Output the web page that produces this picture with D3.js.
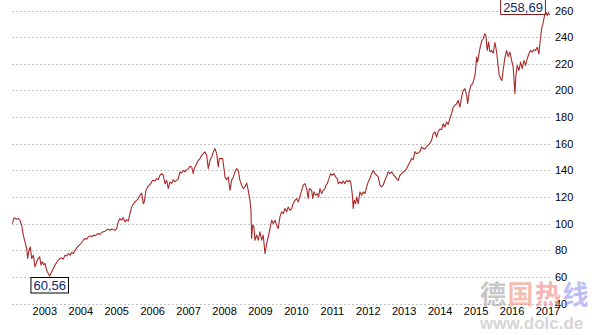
<!DOCTYPE html>
<html><head><meta charset="utf-8">
<script src="https://cdn.jsdelivr.net/npm/d3@7/dist/d3.min.js"></script>
<style>
html,body{margin:0;padding:0;background:#fff;}
svg{display:block;}
</style></head>
<body>
<svg id="chart" width="595" height="335"></svg>
<script>
// ---- data (decimal year, price) ----
const dates = [
2002.108,2002.156,2002.231,2002.275,2002.322,2002.370,2002.414,2002.462,2002.509,2002.537,2002.573,2002.609,2002.648,2002.693,2002.740,2002.787,2002.832,2002.871,2002.907,2002.943,2002.982,
2003.018,2003.065,2003.110,2003.149,2003.205,2003.249,2003.296,2003.344,2003.388,2003.435,2003.483,2003.527,2003.575,2003.622,2003.666,2003.714,2003.761,2003.806,2003.853,2003.900,2003.945,2003.992,
2004.039,2004.084,2004.131,2004.178,2004.223,2004.270,2004.317,2004.362,2004.409,2004.456,2004.501,2004.548,2004.596,2004.640,2004.687,2004.735,2004.779,2004.826,2004.874,2004.918,2004.966,
2005.013,2005.057,2005.105,2005.152,2005.196,2005.244,2005.291,2005.336,2005.383,2005.430,2005.475,2005.522,2005.569,2005.614,2005.661,2005.708,2005.753,2005.781,2005.828,2005.875,2005.920,2005.959,
2006.014,2006.078,2006.126,2006.170,2006.217,2006.265,2006.309,2006.357,2006.404,2006.448,2006.496,2006.543,2006.587,2006.635,2006.682,2006.727,2006.774,2006.821,2006.866,2006.913,2006.960,
2007.005,2007.052,2007.099,2007.144,2007.172,2007.238,2007.283,2007.330,2007.378,2007.422,2007.469,2007.517,2007.561,2007.608,2007.656,2007.700,2007.748,2007.795,2007.839,2007.867,2007.914,2007.962,2007.998,
2008.026,2008.073,2008.118,2008.165,2008.212,2008.257,2008.304,2008.351,2008.396,2008.443,2008.490,2008.535,2008.582,2008.629,2008.674,2008.721,2008.749,2008.768,2008.796,2008.832,2008.860,2008.908,2008.952,2008.999,
2009.047,2009.091,2009.139,2009.186,2009.230,2009.278,2009.325,2009.369,2009.417,2009.464,2009.509,2009.556,2009.603,2009.648,2009.695,2009.742,2009.787,2009.834,2009.881,2009.926,2009.973,
2010.020,2010.065,2010.112,2010.160,2010.204,2010.251,2010.299,2010.343,2010.371,2010.438,2010.466,2010.502,2010.549,2010.594,2010.632,2010.669,2010.716,2010.760,2010.808,2010.836,2010.872,2010.919,2010.966,
2011.011,2011.058,2011.105,2011.150,2011.178,2011.225,2011.272,2011.317,2011.364,2011.411,2011.456,2011.503,2011.531,2011.567,2011.595,2011.623,2011.662,2011.690,2011.734,2011.781,2011.829,2011.873,2011.921,2011.968,
2012.012,2012.060,2012.107,2012.151,2012.199,2012.246,2012.291,2012.338,2012.385,2012.430,2012.477,2012.524,2012.569,2012.616,2012.663,2012.708,2012.755,2012.802,2012.847,2012.894,2012.942,2012.986,
2013.033,2013.081,2013.125,2013.172,2013.220,2013.264,2013.312,2013.359,2013.403,2013.451,2013.498,2013.542,2013.590,2013.637,2013.682,2013.729,2013.776,2013.821,2013.868,2013.915,2013.960,
2014.007,2014.054,2014.099,2014.146,2014.193,2014.238,2014.285,2014.333,2014.377,2014.424,2014.472,2014.516,2014.563,2014.611,2014.655,2014.703,2014.750,2014.778,2014.822,2014.869,2014.917,2014.961,2014.989,
2015.028,2015.056,2015.100,2015.139,2015.175,2015.212,2015.251,2015.287,2015.323,2015.362,2015.398,2015.445,2015.490,2015.537,2015.584,2015.629,2015.657,2015.696,2015.732,2015.768,2015.815,2015.863,2015.907,2015.954,
2016.002,2016.046,2016.094,2016.121,2016.158,2016.205,2016.252,2016.297,2016.344,2016.391,2016.436,2016.483,2016.530,2016.575,2016.622,2016.669,2016.714,2016.761,2016.789,2016.836,2016.864,2016.900,2016.928,2016.956,2016.992,
2017.020,2017.067
];
const prices = [
100,104.3,103.3,103.8,102.5,98.7,91.3,86.3,81.3,73.8,80,82.5,73.8,76.3,67.5,71.3,73.8,75,68.8,71.3,69.3,
70,65,62.5,60.56,63.8,66.3,68.8,70.8,72.5,73.8,74.3,73.3,76.3,75.7,77.5,76.3,78.3,77.5,80,81.8,83.3,84.3,
85.8,87.5,88.8,88.3,90,90.8,90,91.3,90.8,91.8,92.5,91.8,93.3,93.8,94.3,95.3,95.8,95,96,95.5,95,
96.3,101.3,103.8,102.5,104.5,101.3,103,102,107.5,112.5,114.5,116.3,117.5,118.8,121.3,123,115,116.3,125,127.5,128.8,130,
132.5,132,133.8,133,136.3,137.5,136.3,130,132.5,126.3,131.3,130,133,131.3,132.5,133.8,138.8,138,140,138.8,140.5,
141.3,143,142.5,137.5,141.3,145,147.5,148.8,151.3,152.5,153.8,151.3,141.3,147.5,150,153.8,156.3,152.5,142.5,148.8,148.8,148.8,141.3,
135,133,135,125,132.5,135,138.8,141.3,140,132.5,128.8,126.3,127.5,130.5,125,117.5,110,88.8,98.8,97.5,87.5,91.3,87.5,93.8,
87.5,91.3,77.5,85,90,96.3,102.5,100,102.5,98.8,96.3,105,108.8,107.5,111.3,108.8,112.5,110,111.3,115,117.5,
118.8,116.3,120.5,125,128.8,130,126.3,118.8,126.3,125,118.8,123.8,121.3,122.5,120,126.3,122.5,125,126.3,128.8,130,133.8,137.5,
136.3,137.5,135,133.8,130,131.3,130,132,130,132.5,131.3,132.5,130,122.5,111.3,117.5,115,120,115,123.8,121.3,123.8,122.5,127.5,
131.3,133.8,137.5,140,137.5,136.3,135,128.8,127.5,129,132.5,135.5,138.8,137.5,138.8,137,135.5,133.8,132.5,136.3,137.5,138.8,
139.5,141.3,143.8,146,149,148,154,152.5,153,154,157.5,156.3,155.8,158,158.8,160.5,162.5,167.5,168.8,165,169.5,
171,170.5,175,172.5,176.3,174.5,179,182.5,187.5,188.8,190,192.5,187.5,195,200,201.3,196.3,190,198.8,203.8,205,208.8,212.5,
225,221.3,228.8,233.8,237.5,238.8,242.5,241.3,230,236.3,229,230,228,236,229,218,211.3,209,207.5,215.5,224.5,230,225.5,228.8,
222.5,217.5,197.5,211.3,218.8,215,221.3,216.3,222.5,218.8,223.8,227.5,230,228.8,230.6,230,232.5,227.5,235,246.3,248.8,253.8,257.5,258.69,256.3,
258.2,256.8
];
const yearLabels = [2003,2004,2005,2006,2007,2008,2009,2010,2011,2012,2013,2014,2015,2016,2017];
const priceTicks = [40,60,80,100,120,140,160,180,200,220,240,260];
const watermarkChars = ["德","国","热","线"];
const watermarkUrl = "www.dolc.de";

// ---- chart ----
const W = 595, H = 335;
const svg = d3.select("#chart");
svg.append("rect").attr("width", W).attr("height", H).attr("fill", "#fff");

const x = d3.scaleLinear().domain([2002.1, 2017.07]).range([12, 550]);
const y = d3.scaleLinear().domain([40, 260]).range([303.5, 10.5]);

const font = "'Liberation Sans', Arial, sans-serif";

// gridlines
svg.append("g").selectAll("line").data(priceTicks).join("line")
  .attr("x1", 12).attr("x2", 550)
  .attr("y1", d => Math.round(y(d)) + 0.5).attr("y2", d => Math.round(y(d)) + 0.5)
  .attr("stroke", "#c4c4c4").attr("stroke-width", 1).attr("stroke-dasharray", "2,2");

// y axis (right)
const yAxis = svg.append("g").attr("transform", "translate(553,0)")
  .call(d3.axisRight(y).tickValues(priceTicks).tickSize(0).tickPadding(2));
yAxis.select(".domain").remove();
yAxis.selectAll("text").attr("font-family", font).attr("font-size", 11).attr("fill", "#000");

// x axis
const xAxis = svg.append("g").attr("transform", "translate(0,305)")
  .call(d3.axisBottom(x).tickValues(yearLabels).tickFormat(d3.format("d")).tickSize(0).tickPadding(2));
xAxis.select(".domain").remove();
xAxis.selectAll("text").attr("font-family", font).attr("font-size", 11).attr("fill", "#000");

// line
const data = dates.map((d, i) => ({t: d, v: prices[i]}));
svg.append("path").datum(data)
  .attr("fill", "none").attr("stroke", "#a82a2a").attr("stroke-width", 1.1)
  .attr("stroke-linejoin", "round")
  .attr("d", d3.line().x(d => x(d.t)).y(d => y(d.v)));

// annotations
const fmt = v => d3.format(".2f")(v).replace(".", ",");
const maxD = data.reduce((a, b) => b.v > a.v ? b : a);
const minD = data.reduce((a, b) => b.v < a.v ? b : a);

function label(d, anchor, dx, ty, stroke) {
  const g = svg.append("g");
  const t = g.append("text")
    .attr("x", x(d.t) + dx).attr("y", ty)
    .attr("text-anchor", anchor)
    .attr("font-family", font).attr("font-size", 13)
    .attr("fill", "#0b2a6e").text(fmt(d.v));
  const bb = t.node().getBBox();
  g.insert("rect", "text")
    .attr("x", bb.x - 2.5).attr("y", bb.y - 0.5)
    .attr("width", bb.width + 5).attr("height", bb.height + 0.5)
    .attr("fill", "#fff").attr("stroke", stroke).attr("stroke-width", 1);
}
label(maxD, "end", -3, 11.5, "#8b1a1a");
label(minD, "middle", 0, 290, "#000");

// watermark
const wm = svg.append("g").attr("opacity", 0.55);
const wmColors = ["#9a9a9a", "#f08a70", "#f07878", "#8a8af0"];
wm.selectAll("text.c").data(watermarkChars).join("text").attr("class", "c")
  .attr("x", (d, i) => 480 + i * 27.5).attr("y", 304)
  .attr("font-family", "'Noto Sans CJK SC', sans-serif").attr("font-weight", "bold")
  .attr("font-size", 26).attr("fill", (d, i) => wmColors[i]).text(d => d);
wm.append("text").attr("x", 480).attr("y", 329)
  .attr("font-family", font).attr("font-weight", "bold").attr("font-size", 17)
  .attr("fill", "#b4b4b4").text(watermarkUrl);
</script>
</body></html>
